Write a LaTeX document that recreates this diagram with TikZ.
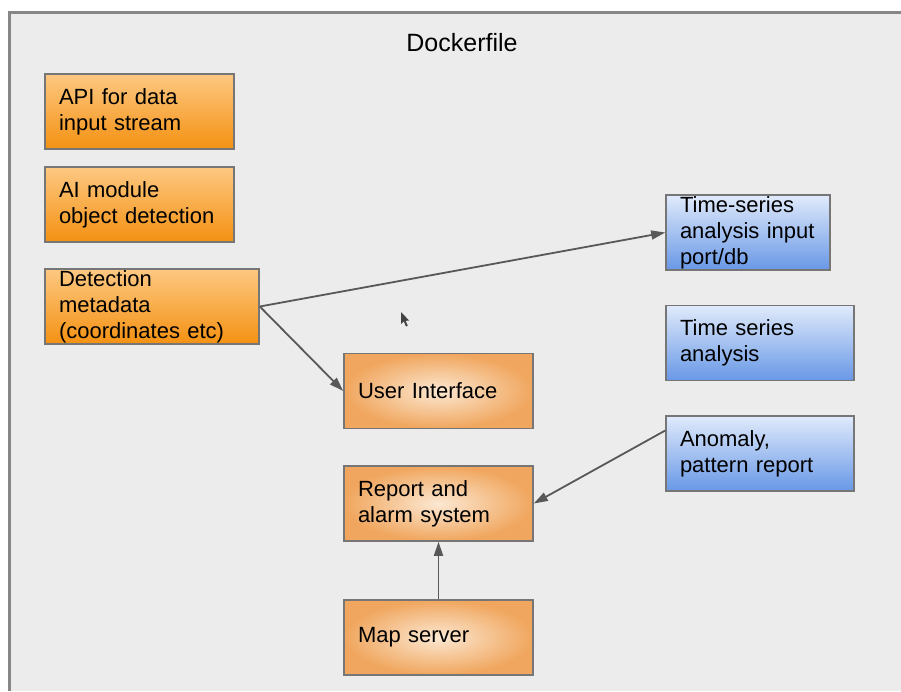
\documentclass[tikz,border=0pt]{standalone}
\usepackage{fontspec}
\setmainfont{Liberation Sans}
\usetikzlibrary{calc,positioning,arrows.meta}

\definecolor{framefill}{RGB}{236,236,236}
\definecolor{frameline}{RGB}{135,135,135}
\definecolor{boxline}{RGB}{118,118,118}
\definecolor{arrowline}{RGB}{88,88,88}
\definecolor{orangetop}{RGB}{253,200,130}
\definecolor{orangebot}{RGB}{244,145,18}
\definecolor{bluetop}{RGB}{224,234,251}
\definecolor{bluebot}{RGB}{104,152,230}
\definecolor{peachin}{RGB}{252,232,210}
\definecolor{peachout}{RGB}{240,166,94}

\begin{document}
\begin{tikzpicture}[x=1pt,y=-1pt,>={Triangle[length=14pt,width=9pt]}]

	\tikzset{
		box/.style={draw=boxline, line width=1.6pt, inner xsep=14pt, inner ysep=0pt,
				align=left, minimum height=75pt, font=\fontsize{22}{26}\selectfont},
		orangebox/.style={box, top color=orangetop, bottom color=orangebot},
		bluebox/.style={box, top color=bluetop, bottom color=bluebot},
		peachbox/.style={box, inner color=peachin, outer color=peachout},
		wide/.style={text width=#1, minimum width=#1+28pt},
		link/.style={->, draw=arrowline, line width=1.8pt}
	}

	% page and the container frame
	\useasboundingbox (0,0) rectangle (901,691);
	\fill[white] (0,0) rectangle (901,691);
	\fill[framefill] (9.5,12.5) rectangle (901,691);
	\draw[frameline, line width=2.2pt] (9.5,691) -- (9.5,12.5) -- (901,12.5);

	\node[font=\fontsize{25}{30}\selectfont] (title) at (462,43) {Dockerfile};

	% left column
	\node[orangebox, wide=161pt] (api) at (139.5,111.5) {API for data\\input stream};
	\node[orangebox, wide=161pt] (aimod) at (139.5,204.5) {AI module\\object detection};
	\node[orangebox, wide=186pt] (detmeta) at (152,306.5) {Detection\\metadata\\(coordinates etc)};

	% middle column
	\node[peachbox, wide=161pt] (ui) at (438.5,391) {User Interface};
	\node[peachbox, wide=161pt] (report) at (438.5,503.5) {Report and\\alarm system};
	\node[peachbox, wide=161pt] (mapserver) at (438.5,637.5) {Map server};

	% right column
	\node[bluebox, wide=136pt] (tsinput) at (748,232.5) {Time-series\\analysis input\\port/db};
	\node[bluebox, wide=160pt] (tsanalysis) at (760,343) {Time series\\analysis};
	\node[bluebox, wide=160pt] (anomaly) at (760,453.5) {Anomaly,\\pattern report};

	\foreach \a/\b in {detmeta.east/tsinput.west, detmeta.east/ui.west, mapserver.north/report.south} {
			\draw[link] (\a) -- (\b);
		}
	\draw[link] ($(anomaly.north west)!0.2!(anomaly.south west)$) -- (report.east);

	% mouse pointer
	\fill[black!85, opacity=0.85] (401,312) -- (401,324) -- (403.8,321.4) -- (406,326.5)
		-- (407.8,325.7) -- (405.6,320.8) -- (409.2,320.6) -- cycle;
\end{tikzpicture}
\end{document}
